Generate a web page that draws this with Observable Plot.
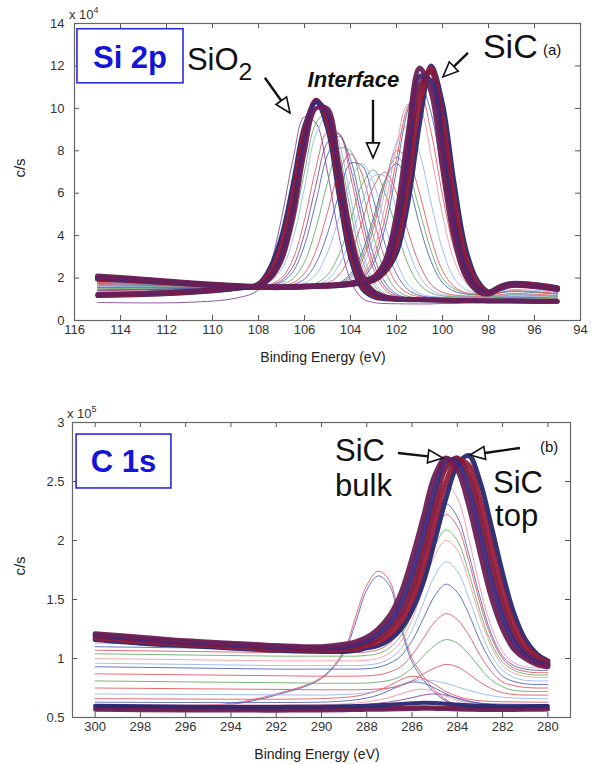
<!DOCTYPE html>
<html><head><meta charset="utf-8">
<script src="https://cdn.jsdelivr.net/npm/d3@7"></script>
<script src="https://cdn.jsdelivr.net/npm/@observablehq/plot@0.6"></script>
<style>
body{margin:0;background:#fff;}
#wrap{position:relative;width:597px;height:764px;font-family:"Liberation Sans",Arial,sans-serif;}
#wrap svg{position:absolute;left:0;}
</style></head><body><div id="wrap"></div>
<script>
// ---------- Panel (a): Si 2p ----------
const siEnergy = [115,113,111,109,108,107.5,107,106.5,106,105.5,105,104.5,104,103.5,103,102.5,102,101.5,101,100.5,100,99.5,99,98.5,98,97.5,97,96,95];
const siXTicks = [116,114,112,110,108,106,104,102,100,98,96,94];
const siYTicks = [0,2,4,6,8,10,12,14];
// values in units of 1e4 c/s
const siSurface = [0.85,0.83,0.86,1.05,1.45,2.6,4.8,7.6,9.6,9.3,7.0,4.0,1.9,1.05,0.85,0.8,0.79,0.78,0.78,0.78,0.8,0.8,0.82,0.83,0.85,0.86,0.86,0.85,0.85];
const siO2a = [1.2,1.25,1.35,1.5,1.65,2.1,3.2,5.5,8.7,10.4,9.5,6.5,3.5,1.8,1.25,1.1,1.02,1.0,0.98,0.97,0.96,0.95,0.94,0.93,0.92,0.92,0.92,0.9,0.9];
const siO2ab = [1.18,1.22,1.32,1.5,1.7,2.3,3.6,6.0,9.0,10.4,9.3,6.2,3.2,1.65,1.18,1.05,1.0,0.98,0.97,0.96,0.95,0.94,0.93,0.92,0.91,0.91,0.91,0.89,0.89];
const siO2ac = [1.22,1.28,1.38,1.51,1.63,2.0,3.0,5.1,8.3,10.3,9.8,7.0,3.8,2.0,1.32,1.12,1.03,1.01,0.99,0.98,0.97,0.96,0.95,0.94,0.93,0.93,0.93,0.91,0.91];
const siO2b = [1.15,1.2,1.3,1.5,1.75,2.5,4.0,6.5,9.2,10.3,9.0,5.8,2.9,1.5,1.1,1.0,0.97,0.96,0.95,0.94,0.93,0.92,0.92,0.91,0.9,0.9,0.9,0.88,0.88];
const siO2c = [1.25,1.3,1.4,1.52,1.62,1.95,2.8,4.8,7.9,10.0,10.0,7.4,4.2,2.2,1.4,1.15,1.05,1.02,1.0,0.99,0.98,0.97,0.96,0.95,0.94,0.94,0.94,0.92,0.92];
const siT1 = [1.3,1.35,1.45,1.55,1.7,2.1,3.1,5.1,7.9,9.9,9.8,7.5,4.6,2.6,1.5,1.1,1.0,0.98,0.97,0.96,0.96,0.95,0.95,0.95,0.95,0.96,0.97,0.96,0.95];
const siTA = [1.32,1.37,1.46,1.55,1.68,1.95,2.7,4.4,7.0,9.3,9.8,8.0,5.2,2.9,1.7,1.18,1.02,0.99,0.98,0.97,0.97,0.96,0.96,0.96,0.96,0.97,0.98,0.97,0.96];
const siT2 = [1.35,1.4,1.48,1.56,1.65,1.85,2.4,3.85,6.25,8.8,9.6,8.4,5.8,3.3,1.9,1.25,1.05,1.0,0.99,0.98,0.98,0.97,0.97,0.97,0.97,0.98,0.99,0.98,0.97];
const siT3 = [1.4,1.44,1.5,1.57,1.6,1.7,2.0,2.9,4.75,7.2,8.9,8.8,6.8,4.3,2.4,1.45,1.12,1.03,1.01,1.0,1.0,0.99,0.99,0.99,0.99,1.0,1.01,1.0,0.99];
const siTB = [1.42,1.46,1.51,1.57,1.6,1.66,1.88,2.55,4.1,6.4,8.4,8.8,7.2,4.8,2.7,1.6,1.18,1.05,1.02,1.01,1.0,1.0,1.0,1.0,1.0,1.01,1.02,1.01,1.0];
const siT4 = [1.45,1.48,1.52,1.58,1.6,1.64,1.8,2.3,3.55,5.6,7.8,8.7,7.6,5.3,3.1,1.8,1.25,1.07,1.03,1.02,1.01,1.0,1.0,1.0,1.0,1.02,1.03,1.02,1.0];
const siT5 = [1.5,1.52,1.55,1.58,1.6,1.62,1.7,1.97,2.75,4.35,6.5,8.1,8.0,6.2,3.95,2.3,1.45,1.14,1.06,1.04,1.03,1.02,1.02,1.02,1.02,1.04,1.06,1.05,1.02];
const siT6 = [1.55,1.56,1.57,1.59,1.6,1.61,1.64,1.78,2.22,3.3,5.1,7.0,7.85,6.9,4.8,2.9,1.75,1.28,1.12,1.08,1.06,1.05,1.05,1.05,1.05,1.08,1.1,1.08,1.05];
const siTC = [1.57,1.58,1.58,1.6,1.6,1.6,1.62,1.7,1.95,2.7,4.1,5.95,7.4,7.3,5.7,3.6,2.2,1.45,1.18,1.1,1.08,1.07,1.06,1.06,1.06,1.1,1.12,1.1,1.06];
const siT7 = [1.6,1.6,1.6,1.6,1.6,1.6,1.6,1.63,1.76,2.17,3.2,4.85,6.6,7.4,6.5,4.5,2.8,1.7,1.27,1.14,1.1,1.09,1.08,1.08,1.08,1.12,1.15,1.13,1.08];
const siTD = [1.68,1.64,1.61,1.6,1.6,1.6,1.6,1.6,1.61,1.68,1.92,2.6,3.85,5.5,6.8,6.8,5.2,3.4,2.1,1.45,1.23,1.15,1.13,1.12,1.12,1.18,1.23,1.2,1.14];
const siT8 = [1.65,1.63,1.61,1.6,1.6,1.6,1.6,1.6,1.63,1.75,2.15,3.1,4.7,6.4,7.1,6.0,4.3,2.65,1.7,1.3,1.16,1.12,1.1,1.1,1.1,1.15,1.2,1.18,1.12];
const siT9 = [1.7,1.66,1.62,1.6,1.6,1.6,1.6,1.6,1.6,1.63,1.76,2.15,3.1,4.65,6.3,7.0,6.0,4.2,2.65,1.7,1.33,1.2,1.16,1.15,1.15,1.22,1.27,1.24,1.17];
const siT10 = [1.75,1.7,1.64,1.6,1.59,1.59,1.59,1.59,1.6,1.6,1.63,1.77,2.2,3.2,4.85,6.6,7.4,6.5,4.5,2.8,1.78,1.38,1.25,1.21,1.2,1.3,1.36,1.32,1.24];
const siTE = [1.78,1.72,1.65,1.6,1.59,1.58,1.58,1.58,1.59,1.6,1.62,1.75,2.1,3.0,4.6,6.6,7.7,7.0,5.2,3.3,2.0,1.5,1.28,1.22,1.21,1.31,1.38,1.34,1.26];
const siT11 = [1.8,1.74,1.66,1.61,1.59,1.58,1.58,1.58,1.59,1.6,1.61,1.72,2.0,2.8,4.35,6.45,8.0,7.6,6.0,3.9,2.35,1.6,1.32,1.24,1.22,1.33,1.4,1.36,1.28];
const siT12 = [1.85,1.77,1.68,1.61,1.58,1.57,1.57,1.58,1.59,1.6,1.61,1.67,1.88,2.5,3.9,6.1,8.4,9.2,7.9,5.55,3.35,2.0,1.46,1.3,1.26,1.38,1.46,1.42,1.32];
const siT13 = [1.9,1.8,1.7,1.62,1.58,1.57,1.57,1.57,1.58,1.6,1.62,1.64,1.8,2.2,3.3,5.4,8.2,10.2,10.0,7.8,5.0,2.85,1.8,1.42,1.32,1.45,1.55,1.5,1.38];
const siTF = [1.92,1.82,1.71,1.62,1.58,1.57,1.57,1.57,1.58,1.6,1.62,1.64,1.76,2.05,2.95,4.8,7.6,10.1,10.8,8.9,5.9,3.4,2.0,1.5,1.33,1.47,1.58,1.54,1.41];
const siT14 = [1.95,1.85,1.72,1.62,1.58,1.57,1.57,1.57,1.58,1.6,1.62,1.64,1.72,1.95,2.7,4.35,7.1,9.95,11.2,9.8,6.8,4.0,2.3,1.6,1.35,1.5,1.62,1.58,1.45];
const siCa = [2.1,1.95,1.78,1.65,1.6,1.59,1.59,1.6,1.62,1.64,1.67,1.7,1.76,1.9,2.05,2.8,5.0,8.8,11.9,10.8,7.2,3.9,2.1,1.4,1.25,1.5,1.65,1.6,1.45];
const siCab = [2.05,1.92,1.76,1.63,1.59,1.58,1.58,1.59,1.61,1.63,1.65,1.68,1.74,1.86,1.97,2.6,4.5,8.0,11.5,11.3,8.0,4.4,2.35,1.5,1.28,1.52,1.68,1.62,1.48];
const siCb = [2.0,1.88,1.74,1.62,1.58,1.57,1.57,1.58,1.6,1.62,1.64,1.67,1.72,1.82,1.9,2.4,4.0,7.2,11.0,11.7,8.8,5.0,2.6,1.6,1.3,1.55,1.7,1.65,1.5];
const siCbc = [1.98,1.86,1.73,1.61,1.57,1.56,1.56,1.57,1.59,1.61,1.63,1.66,1.71,1.8,1.9,2.35,3.6,6.4,10.2,11.9,9.5,5.7,3.0,1.75,1.32,1.58,1.72,1.68,1.52];
const siCc = [1.95,1.85,1.72,1.6,1.56,1.55,1.55,1.56,1.58,1.6,1.62,1.65,1.7,1.78,1.9,2.3,3.2,5.6,9.3,12.0,10.2,6.5,3.4,1.9,1.35,1.6,1.75,1.7,1.55];

// ---------- Panel (b): C 1s ----------
const cEnergy = [300,298,296,294,292,290,289,288.5,288,287.5,287,286.5,286,285.5,285,284.5,284,283.5,283,282.5,282,281.5,281,280.5,280];
const cXTicks = [300,298,296,294,292,290,288,286,284,282,280];
const cYTicks = [0.5,1,1.5,2,2.5,3];
// values in units of 1e5 c/s
const cLowA = [0.58,0.575,0.572,0.575,0.57,0.572,0.575,0.574,0.576,0.578,0.58,0.582,0.585,0.586,0.585,0.583,0.58,0.578,0.576,0.575,0.575,0.576,0.577,0.578,0.58];
const cLowB = [0.6,0.595,0.592,0.59,0.59,0.592,0.595,0.597,0.6,0.604,0.608,0.614,0.62,0.624,0.622,0.617,0.61,0.604,0.6,0.597,0.595,0.595,0.596,0.597,0.598];
const cLowC = [0.565,0.562,0.56,0.56,0.558,0.56,0.562,0.563,0.565,0.566,0.568,0.57,0.572,0.574,0.573,0.571,0.568,0.566,0.564,0.563,0.563,0.564,0.565,0.566,0.567];
const cAdv1 = [0.6,0.6,0.6,0.62,0.7,0.84,1.07,1.35,1.62,1.74,1.66,1.3,1.0,0.85,0.73,0.65,0.61,0.6,0.6,0.6,0.6,0.6,0.6,0.6,0.6];
const cAdv2 = [0.59,0.59,0.59,0.61,0.69,0.83,1.05,1.3,1.58,1.7,1.62,1.26,0.97,0.82,0.71,0.64,0.61,0.59,0.59,0.59,0.59,0.59,0.59,0.59,0.59];
const cB1 = [1.13,1.125,1.12,1.115,1.11,1.11,1.11,1.11,1.115,1.14,1.2,1.32,1.57,1.93,2.29,2.47,2.36,2.02,1.6,1.27,1.06,0.965,0.93,0.92,0.92];
const cB2 = [1.1,1.095,1.09,1.085,1.08,1.08,1.08,1.08,1.085,1.105,1.16,1.27,1.5,1.82,2.14,2.31,2.2,1.89,1.52,1.21,1.02,0.94,0.91,0.9,0.9];
const cB3 = [1.07,1.065,1.06,1.055,1.05,1.05,1.05,1.05,1.056,1.074,1.127,1.23,1.45,1.75,2.06,2.22,2.12,1.83,1.47,1.18,1.0,0.92,0.89,0.88,0.88];
const cB4 = [1.04,1.035,1.03,1.025,1.02,1.02,1.02,1.02,1.026,1.042,1.09,1.19,1.38,1.67,1.95,2.09,2.0,1.73,1.4,1.13,0.97,0.9,0.87,0.86,0.86];
const cB5 = [1.0,0.995,0.99,0.985,0.98,0.98,0.98,0.98,0.985,1.0,1.047,1.14,1.33,1.6,1.87,2.0,1.92,1.66,1.35,1.1,0.94,0.875,0.85,0.84,0.84];
const cB6 = [0.96,0.955,0.95,0.945,0.94,0.94,0.94,0.94,0.945,0.958,0.998,1.08,1.24,1.47,1.7,1.82,1.74,1.52,1.25,1.03,0.9,0.84,0.815,0.81,0.81];
const cB7 = [0.93,0.925,0.92,0.915,0.91,0.91,0.91,0.91,0.914,0.925,0.958,1.02,1.15,1.34,1.53,1.63,1.56,1.38,1.15,0.97,0.85,0.805,0.785,0.78,0.78];
const cB8 = [0.87,0.866,0.862,0.858,0.854,0.85,0.85,0.85,0.853,0.861,0.885,0.93,1.03,1.17,1.31,1.38,1.33,1.2,1.03,0.89,0.8,0.77,0.755,0.75,0.75];
const cB9 = [0.81,0.806,0.802,0.798,0.795,0.79,0.79,0.79,0.792,0.8,0.815,0.85,0.92,1.02,1.11,1.16,1.13,1.04,0.92,0.82,0.76,0.73,0.722,0.72,0.72];
const cB10 = [0.75,0.747,0.744,0.741,0.738,0.735,0.735,0.735,0.737,0.741,0.75,0.77,0.81,0.87,0.92,0.95,0.93,0.87,0.8,0.745,0.71,0.695,0.69,0.69,0.69];
const cB11 = [0.7,0.698,0.696,0.694,0.692,0.69,0.695,0.7,0.71,0.725,0.75,0.78,0.81,0.82,0.81,0.79,0.76,0.73,0.705,0.685,0.672,0.665,0.662,0.66,0.66];
const cB12 = [0.66,0.658,0.656,0.655,0.655,0.66,0.67,0.68,0.7,0.73,0.77,0.82,0.85,0.83,0.78,0.72,0.68,0.655,0.642,0.636,0.633,0.632,0.631,0.63,0.63];
const cB13 = [0.63,0.628,0.627,0.626,0.627,0.63,0.64,0.65,0.665,0.69,0.73,0.77,0.8,0.79,0.75,0.7,0.66,0.635,0.622,0.616,0.613,0.612,0.611,0.61,0.61];
const cB14 = [0.61,0.609,0.608,0.607,0.607,0.61,0.615,0.622,0.632,0.648,0.67,0.7,0.73,0.74,0.72,0.68,0.645,0.622,0.61,0.604,0.602,0.601,0.6,0.6,0.6];
const cB15 = [0.6,0.6,0.6,0.6,0.6,0.6,0.603,0.607,0.612,0.62,0.632,0.648,0.668,0.69,0.7,0.69,0.665,0.64,0.62,0.608,0.603,0.601,0.6,0.6,0.6];
const cTopA = [1.19,1.16,1.13,1.11,1.09,1.08,1.09,1.1,1.13,1.17,1.25,1.38,1.6,1.92,2.3,2.62,2.7,2.55,2.2,1.8,1.45,1.2,1.06,0.99,0.95];
const cTopAB = [1.2,1.17,1.14,1.12,1.1,1.09,1.1,1.12,1.15,1.21,1.3,1.46,1.72,2.06,2.43,2.68,2.66,2.43,2.05,1.66,1.35,1.14,1.03,0.97,0.94];
const cTopAC = [1.175,1.145,1.12,1.1,1.08,1.07,1.075,1.085,1.11,1.14,1.2,1.31,1.5,1.78,2.15,2.5,2.68,2.64,2.35,1.96,1.58,1.29,1.11,1.02,0.965];
const cTopB = [1.21,1.18,1.15,1.13,1.11,1.1,1.12,1.14,1.18,1.25,1.36,1.55,1.85,2.2,2.55,2.7,2.6,2.3,1.9,1.52,1.25,1.08,1.0,0.95,0.93];
const cTopC = [1.16,1.13,1.11,1.09,1.07,1.06,1.06,1.07,1.09,1.11,1.16,1.25,1.41,1.65,2.0,2.36,2.64,2.72,2.5,2.12,1.72,1.38,1.16,1.04,0.98];

// ---------- styles ----------
const RED="#e0505a", BLUE="#4a5cc0", GREEN="#62a862", LBLUE="#8fb4ee", PINK="#ee8e9e", PURPLE="#7a3f8e", LRED="#f09a9a";
const DK1="#7d1a3c", DK2="#27276f", DK3="#6b1f55", DK4="#9a1c3a", DK5="#3a2a80";
const FONT = "'Liberation Sans', Arial, Helvetica, sans-serif";

function lineMark(E, vals, stroke, width, opacity) {
  const rows = E.map((e, i) => ({E: e, v: vals[i]}));
  return Plot.line(rows, {x: "E", y: "v", stroke, strokeWidth: width, strokeOpacity: opacity, curve: "catmull-rom"});
}

function makePanel(cfg) {
  const {E, xDomain, yDomain, xTicks, yTicks, width, height, mt, mb, ml, mr} = cfg;
  const tly = (yDomain[1] - yDomain[0]) * 5 / (height - mt - mb);
  const tlx = (xDomain[0] - xDomain[1]) * 5 / (width - ml - mr);
  const marks = [];
  for (const s of cfg.thin) marks.push(lineMark(E, s[0], s[1], 1, 0.85));
  for (const s of cfg.thick) marks.push(lineMark(E, s[0], s[1], s[2], 0.95));
  marks.push(
    Plot.ruleX(xTicks, {x: d => d, y1: yDomain[0], y2: yDomain[0] + tly, stroke: "#555"}),
    Plot.ruleX(xTicks, {x: d => d, y1: yDomain[1], y2: yDomain[1] - tly, stroke: "#555"}),
    Plot.ruleY(yTicks, {y: d => d, x1: xDomain[0], x2: xDomain[0] - tlx, stroke: "#555"}),
    Plot.ruleY(yTicks, {y: d => d, x1: xDomain[1], x2: xDomain[1] + tlx, stroke: "#555"}),
    Plot.frame({stroke: "#666", strokeWidth: 1.2}),
    Plot.axisX({ticks: xTicks, anchor: "bottom", tickSize: 0, tickPadding: 4, tickFormat: d => String(d), label: null, fontSize: 13, fill: "#333"}),
    Plot.axisY({ticks: yTicks, anchor: "left", tickSize: 0, tickPadding: cfg.yPad, tickFormat: d => String(d), label: null, fontSize: 13, fill: "#333"})
  );
  return Plot.plot({
    width, height, marginTop: mt, marginBottom: mb, marginLeft: ml, marginRight: mr,
    x: {domain: xDomain}, y: {domain: yDomain},
    style: {fontFamily: FONT, fontSize: "13px", background: "transparent", overflow: "visible"},
    marks
  });
}

function arrow(g, x1, y1, x2, y2) {
  const dx = x2 - x1, dy = y2 - y1, L = Math.hypot(dx, dy), ux = dx / L, uy = dy / L;
  const hl = 15, hw = 6.5;
  const bx = x2 - ux * hl, by = y2 - uy * hl;
  g.append("line").attr("x1", x1).attr("y1", y1).attr("x2", bx).attr("y2", by)
    .attr("stroke", "#111").attr("stroke-width", 2.4);
  g.append("path").attr("d", `M${x2},${y2}L${bx - uy * hw},${by + ux * hw}L${bx + uy * hw},${by - ux * hw}Z`)
    .attr("fill", "#fff").attr("stroke", "#111").attr("stroke-width", 1.6);
}

function decorate(plot, cfg, anno) {
  const sx = v => plot.scale("x").apply(v), sy = v => plot.scale("y").apply(v);
  const g = d3.select(plot).append("g").attr("font-family", FONT).attr("text-anchor", "start");
  const m = g.append("text").attr("x", cfg.ml - 5).attr("y", cfg.mt - 4).attr("font-size", 13).attr("fill", "#333");
  m.append("tspan").text("x 10");
  m.append("tspan").attr("dy", -6).attr("font-size", 9).text(cfg.exp);
  g.append("text").attr("transform", `translate(25,${cfg.yLabelY}) rotate(-90)`).attr("text-anchor", "middle")
    .attr("font-size", 15).attr("fill", "#222").text("c/s");
  g.append("text").attr("x", cfg.ml + (cfg.width - cfg.ml - cfg.mr) / 2 - 4).attr("y", cfg.height - cfg.mb + 42)
    .attr("text-anchor", "middle").attr("font-size", 14).attr("fill", "#222").text("Binding Energy (eV)");
  const b = anno.box;
  g.append("rect").attr("x", sx(b.e1)).attr("y", sy(b.v1)).attr("width", sx(b.e2) - sx(b.e1)).attr("height", sy(b.v2) - sy(b.v1))
    .attr("fill", "#fff").attr("stroke", "#2a2ae0").attr("stroke-width", 1.6);
  g.append("text").attr("x", (sx(b.e1) + sx(b.e2)) / 2).attr("y", sy(b.tv)).attr("text-anchor", "middle")
    .attr("font-size", 31).attr("font-weight", "bold").attr("fill", "#1414d8").text(b.text);
  for (const t of anno.texts) {
    const el = g.append("text").attr("x", sx(t.e)).attr("y", sy(t.v)).attr("font-size", t.size).attr("fill", "#111")
      .attr("text-anchor", t.anchor || "start");
    if (t.weight) el.attr("font-weight", t.weight);
    if (t.style) el.attr("font-style", t.style);
    el.append("tspan").text(t.text);
    if (t.sub) el.append("tspan").attr("dy", 10).attr("font-size", t.size * 0.8).text(t.sub);
  }
  for (const a of anno.arrows) arrow(g, sx(a[0]), sy(a[1]), sx(a[2]), sy(a[3]));
}

// annotation anchors (data coordinates)
const siAnno = {
  box: {e1: 115.87, e2: 111.26, v1: 13.73, v2: 11.18, tv: 11.9, text: "Si 2p"},
  texts: [
    {e: 111.09, v: 11.79, size: 31, text: "SiO", sub: "2"},
    {e: 103.85, v: 10.99, size: 22, text: "Interface", weight: "bold", style: "italic", anchor: "middle"},
    {e: 98.22, v: 12.36, size: 34, text: "SiC"},
    {e: 95.61, v: 12.5, size: 15, text: "(a)"}
  ],
  arrows: [[107.7, 11.42, 106.61, 9.76], [103.0, 10.38, 103.0, 7.64], [98.87, 12.59, 99.96, 11.46]]
};
const cAnno = {
  box: {e1: 300.82, e2: 296.63, v1: 2.898, v2: 2.441, tv: 2.576, text: "C 1s"},
  texts: [
    {e: 289.38, v: 2.67, size: 31, text: "SiC"},
    {e: 289.38, v: 2.37, size: 31, text: "bulk"},
    {e: 282.4, v: 2.40, size: 31, text: "SiC"},
    {e: 282.31, v: 2.12, size: 31, text: "top"},
    {e: 280.33, v: 2.746, size: 15, text: "(b)"}
  ],
  arrows: [[286.6, 2.737, 284.61, 2.695], [281.21, 2.78, 283.42, 2.72]]
};

const siCfg = {
  E: siEnergy, xDomain: [116, 94], yDomain: [0, 14], xTicks: siXTicks, yTicks: siYTicks,
  width: 597, height: 380, mt: 23, mb: 60, ml: 74, mr: 17, yPad: 10, exp: "4", yLabelY: 168,
  thin: [[siSurface, PURPLE], [siT1, PINK], [siTA, GREEN], [siT2, LBLUE], [siT3, RED], [siTB, PURPLE], [siT4, BLUE], [siT5, GREEN],
         [siT6, RED], [siTC, BLUE], [siT7, LBLUE], [siTD, LBLUE], [siT8, GREEN], [siT9, RED], [siT10, BLUE], [siTE, GREEN],
         [siT11, RED], [siT12, LBLUE], [siT13, PINK], [siTF, RED], [siT14, BLUE]],
  thick: [[siO2b, DK2, 4], [siO2ab, DK4, 4], [siO2a, DK1, 4], [siO2ac, DK5, 4], [siO2c, DK3, 4],
          [siCc, DK2, 5], [siCbc, DK4, 5], [siCb, DK1, 5], [siCab, DK5, 5], [siCa, DK3, 5]]
};
const cCfg = {
  E: cEnergy, xDomain: [301, 279], yDomain: [0.5, 3], xTicks: cXTicks, yTicks: cYTicks,
  width: 597, height: 384, mt: 42, mb: 47, ml: 72, mr: 27, yPad: 8, exp: "5", yLabelY: 186,
  thin: [[cAdv1, RED], [cAdv2, BLUE], [cB15, PURPLE], [cB14, PINK], [cB13, BLUE], [cB12, RED], [cB11, LBLUE], [cB10, RED],
         [cB9, GREEN], [cB8, RED], [cB7, BLUE], [cB6, LBLUE], [cB5, LRED], [cB4, GREEN], [cB3, RED], [cB2, BLUE], [cB1, PINK]],
  thick: [[cLowA, DK1, 4], [cLowB, DK2, 4], [cLowC, DK3, 4],
          [cTopC, DK2, 5], [cTopAC, DK4, 5], [cTopA, DK1, 5], [cTopAB, DK5, 5], [cTopB, DK3, 5]]
};

const wrap = document.getElementById("wrap");
const p1 = makePanel(siCfg);
p1.style.top = "0px";
wrap.appendChild(p1);
decorate(p1, siCfg, siAnno);
const p2 = makePanel(cCfg);
p2.style.top = "380px";
wrap.appendChild(p2);
decorate(p2, cCfg, cAnno);
</script></body></html>
